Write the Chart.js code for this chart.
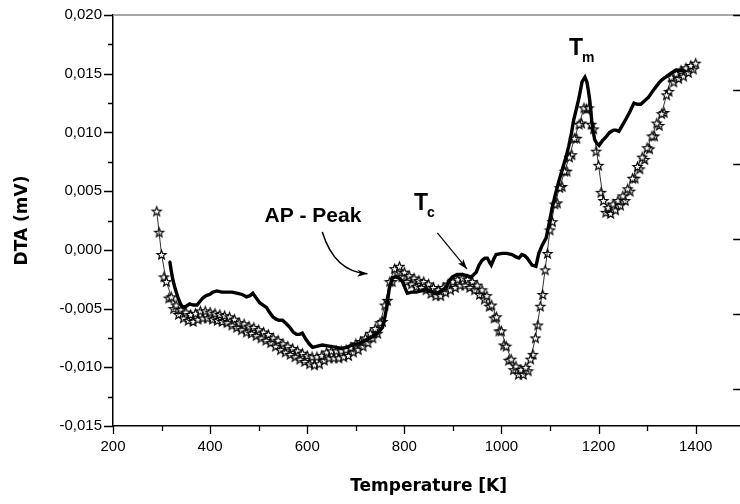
<!DOCTYPE html>
<html>
<head>
<meta charset="utf-8">
<script src="https://cdn.jsdelivr.net/npm/chart.js@4.4.1/dist/chart.umd.min.js"></script>
<style>
html,body{margin:0;padding:0;overflow:hidden;background:#fff;}
#wrap{position:absolute;left:0;top:0;width:750px;height:504px;}
</style>
</head>
<body>
<div id="wrap"><canvas id="c" width="750" height="504"></canvas></div>
<script>
// ---- Data ----
const solidT = [317,320,323,328,334,339,344,351,358,365,373,379,385,392,399,406,414,424,434,445,457,466,475,482,488,495,502,509,516,522,529,536,542,549,557,564,571,578,584,590,597,604,611,621,631,645,660,670,681,693,704,714,724,734,745,755,760,764,769,775,782,789,796,801,806,815,825,835,845,856,866,876,886,893,899,909,919,929,938,948,954,960,966,971,976,979,984,989,1001,1011,1022,1030,1036,1042,1048,1053,1058,1063,1071,1077,1084,1092,1098,1104,1111,1118,1125,1133,1139,1144,1149,1155,1160,1166,1172,1176,1179,1182,1186,1189,1192,1196,1201,1208,1215,1223,1231,1236,1242,1249,1256,1265,1273,1280,1287,1295,1303,1313,1324,1331,1338,1348,1359,1371,1379];
const solidDTA = [-0.0010,-0.0018,-0.0025,-0.0033,-0.0041,-0.0046,-0.0049,-0.0048,-0.0046,-0.0047,-0.0047,-0.0044,-0.0041,-0.0039,-0.0038,-0.0036,-0.0035,-0.0036,-0.0036,-0.0036,-0.0037,-0.0038,-0.0040,-0.0039,-0.0037,-0.0041,-0.0045,-0.0047,-0.0049,-0.0053,-0.0057,-0.0059,-0.0060,-0.0060,-0.0063,-0.0066,-0.0070,-0.0072,-0.0072,-0.0071,-0.0076,-0.0080,-0.0083,-0.0082,-0.0081,-0.0082,-0.0083,-0.0084,-0.0083,-0.0081,-0.0080,-0.0078,-0.0076,-0.0074,-0.0071,-0.0066,-0.0057,-0.0048,-0.0033,-0.0024,-0.0023,-0.0024,-0.0027,-0.0032,-0.0037,-0.0036,-0.0036,-0.0035,-0.0034,-0.0036,-0.0037,-0.0035,-0.0032,-0.0026,-0.0023,-0.0021,-0.0021,-0.0022,-0.0023,-0.0019,-0.0013,-0.0009,-0.0007,-0.0007,-0.0011,-0.0013,-0.0008,-0.0004,-0.0003,-0.0003,-0.0004,-0.0006,-0.0007,-0.0004,-0.0005,-0.0007,-0.0010,-0.0013,-0.0014,-0.0003,0.0004,0.0010,0.0022,0.0035,0.0047,0.0058,0.0068,0.0079,0.0089,0.0099,0.0111,0.0121,0.0130,0.0143,0.0147,0.0143,0.0136,0.0127,0.0110,0.0101,0.0094,0.0091,0.0089,0.0093,0.0096,0.0100,0.0102,0.0102,0.0101,0.0106,0.0111,0.0118,0.0125,0.0124,0.0124,0.0127,0.0130,0.0136,0.0142,0.0145,0.0147,0.0150,0.0153,0.0153,0.0152];

const starAT = [290,300,310,320,330,340,350,360,370,380,390,400,410,420,430,440,450,460,470,480,490,500,510,520,530,540,550,560,570,580,590,600,610,620,630,640,650,660,670,680,690,700,710,720,730,740,750,760,770,780,790,800,810,820,830,840,850,860,870,880,890,900,910,920,930,940,950,960,970,980,990,1000,1010,1020,1030,1040,1050,1060,1070,1080,1090,1100,1110,1120,1130,1140,1150,1160,1170,1180,1190,1200,1210,1220,1230,1240,1250,1260,1270,1280,1290,1300,1310,1320,1330,1340,1350,1360,1370,1380,1390,1400];
const starADTA = [0.0033,-0.0004,-0.0027,-0.0040,-0.0047,-0.0051,-0.0053,-0.0055,-0.0054,-0.0052,-0.0052,-0.0053,-0.0054,-0.0055,-0.0056,-0.0057,-0.0059,-0.0062,-0.0063,-0.0065,-0.0066,-0.0068,-0.0070,-0.0072,-0.0075,-0.0077,-0.0080,-0.0082,-0.0084,-0.0086,-0.0088,-0.0090,-0.0091,-0.0091,-0.0090,-0.0087,-0.0086,-0.0086,-0.0086,-0.0085,-0.0083,-0.0080,-0.0078,-0.0075,-0.0071,-0.0067,-0.0062,-0.0047,-0.0027,-0.0016,-0.0014,-0.0019,-0.0022,-0.0024,-0.0026,-0.0027,-0.0029,-0.0032,-0.0034,-0.0032,-0.0029,-0.0027,-0.0025,-0.0024,-0.0025,-0.0027,-0.0030,-0.0034,-0.0039,-0.0047,-0.0057,-0.0069,-0.0082,-0.0093,-0.0099,-0.0102,-0.0100,-0.0093,-0.0075,-0.0048,-0.0017,0.0017,0.0039,0.0053,0.0067,0.0079,0.0095,0.0107,0.0121,0.0121,0.0103,0.0072,0.0042,0.0036,0.0039,0.0042,0.0046,0.0052,0.0061,0.0071,0.0079,0.0087,0.0097,0.0108,0.0116,0.0132,0.0147,0.0150,0.0153,0.0155,0.0157,0.0159];

const starBT = [295,305,315,325,335,345,355,365,375,385,395,405,415,425,435,445,455,465,475,485,495,505,515,525,535,545,555,565,575,585,595,605,615,625,635,645,655,665,675,685,695,705,715,725,735,745,755,765,775,785,795,805,815,825,835,845,855,865,875,885,895,905,915,925,935,945,955,965,975,985,995,1005,1015,1025,1035,1045,1055,1065,1075,1085,1095,1105,1115,1125,1135,1145,1155,1165,1175,1185,1195,1205,1215,1225,1235,1245,1255,1265,1275,1285,1295,1305,1315,1325,1335,1345,1355,1365,1375,1385,1395];
const starBDTA = [0.0015,-0.0023,-0.0041,-0.0050,-0.0055,-0.0058,-0.0060,-0.0061,-0.0059,-0.0058,-0.0058,-0.0059,-0.0060,-0.0061,-0.0062,-0.0064,-0.0066,-0.0068,-0.0070,-0.0071,-0.0073,-0.0075,-0.0077,-0.0079,-0.0082,-0.0085,-0.0087,-0.0089,-0.0091,-0.0093,-0.0095,-0.0097,-0.0098,-0.0097,-0.0094,-0.0092,-0.0092,-0.0092,-0.0091,-0.0090,-0.0087,-0.0085,-0.0082,-0.0079,-0.0075,-0.0071,-0.0061,-0.0043,-0.0027,-0.0019,-0.0023,-0.0027,-0.0029,-0.0031,-0.0032,-0.0034,-0.0037,-0.0039,-0.0039,-0.0036,-0.0034,-0.0032,-0.0030,-0.0030,-0.0032,-0.0034,-0.0038,-0.0042,-0.0048,-0.0058,-0.0069,-0.0081,-0.0094,-0.0102,-0.0106,-0.0106,-0.0103,-0.0089,-0.0064,-0.0038,-0.0003,0.0024,0.0040,0.0054,0.0067,0.0081,0.0095,0.0108,0.0120,0.0107,0.0084,0.0049,0.0032,0.0031,0.0034,0.0038,0.0042,0.0050,0.0061,0.0069,0.0077,0.0086,0.0097,0.0106,0.0117,0.0135,0.0143,0.0146,0.0148,0.0151,0.0154];

// axis ticks
const xMajorTicks = [200,400,600,800,1000,1200,1400];
const xMinorTicks = [300,500,700,900,1100,1300,1500];
const yMajorTicks = [-0.015,-0.010,-0.005,0.000,0.005,0.010,0.015,0.020];
const yMinorTicks = [-0.0125,-0.0075,-0.0025,0.0025,0.0075,0.0125,0.0175];
const rightAxisTicks = [0,1,2,3,4,5];

// annotation anchors in data units
const labelTm = {x:1139, y:0.0166, main:'T', sub:'m'};
const labelTc = {x:820, y:0.0034, main:'T', sub:'c'};
const labelAP = {x:512, y:0.0024, text:'AP - Peak'};
const arrowTc = {from:[868,0.00145], to:[929,-0.00162]};
const arrowAP = {from:[631,0.00153], ctrl:[656,-0.00187], to:[724,-0.00204]};

// ---- helpers ----
function pts(xs, ys){ return xs.map((x,i)=>({x:x, y:ys[i]})); }
function makeStar(r){
  const s = Math.ceil(r*2+3);
  const c = document.createElement('canvas');
  c.width = s; c.height = s;
  const g = c.getContext('2d');
  g.translate(s/2, s/2+0.5);
  g.beginPath();
  for(let i=0;i<10;i++){
    const rad = (i%2) ? r*0.42 : r;
    const a = -Math.PI/2 + i*Math.PI/5;
    g.lineTo(rad*Math.cos(a), rad*Math.sin(a));
  }
  g.closePath();
  g.fillStyle='#fff'; g.fill();
  g.lineWidth=1.15; g.strokeStyle='#000'; g.stroke();
  return c;
}
const starImg = makeStar(4.8);
const fmt = v => { const r = Math.round(v*1000)/1000 + 0; return r.toFixed(3).replace('.', ','); };
const isMult = (v, s) => Math.abs(Math.round(v/s)*s - v) < 1e-9;

function arrowHead(ctx, x, y, ang, len, wid){
  ctx.save();
  ctx.translate(x,y); ctx.rotate(ang);
  ctx.beginPath();
  ctx.moveTo(0,0); ctx.lineTo(-len, wid/2); ctx.lineTo(-len*0.75,0); ctx.lineTo(-len,-wid/2); ctx.closePath();
  ctx.fill();
  ctx.restore();
}

const framePlugin = {
  id:'frame',
  afterDraw(chart){
    const {ctx, chartArea:a, scales} = chart;
    const xs = scales.x, ys = scales.y, y2 = scales.y2;
    ctx.save();
    // top border (grey)
    ctx.strokeStyle = '#8a8a8a'; ctx.lineWidth = 1.5;
    ctx.beginPath(); ctx.moveTo(a.left, a.top); ctx.lineTo(a.right, a.top); ctx.stroke();
    // right border
    ctx.strokeStyle = '#000';
    ctx.beginPath(); ctx.moveTo(a.right, a.top); ctx.lineTo(a.right, a.bottom); ctx.stroke();
    ctx.lineWidth = 1.3; ctx.strokeStyle = '#000';
    // x ticks
    ctx.beginPath();
    xMajorTicks.forEach(v=>{ const p = Math.round(xs.getPixelForValue(v))+0.5; ctx.moveTo(p, a.bottom); ctx.lineTo(p, a.bottom+8); });
    xMinorTicks.forEach(v=>{ const p = Math.round(xs.getPixelForValue(v))+0.5; ctx.moveTo(p, a.bottom); ctx.lineTo(p, a.bottom+5); });
    // y ticks
    yMajorTicks.forEach(v=>{ const p = Math.round(ys.getPixelForValue(v))+0.5; ctx.moveTo(a.left, p); ctx.lineTo(a.left-9, p); });
    yMinorTicks.forEach(v=>{ const p = Math.round(ys.getPixelForValue(v))+0.5; ctx.moveTo(a.left, p); ctx.lineTo(a.left-5, p); });
    // right side ticks (inward)
    rightAxisTicks.forEach(v=>{ const p = Math.round(y2.getPixelForValue(v))+0.5; ctx.moveTo(a.right, p); ctx.lineTo(a.right-11, p); });
    ctx.stroke();

    // annotations
    ctx.fillStyle = '#000';
    ctx.textBaseline = 'alphabetic'; ctx.textAlign = 'left';
    [labelTm, labelTc].forEach(L=>{
      const px = xs.getPixelForValue(L.x), py = ys.getPixelForValue(L.y);
      ctx.font = 'bold 23px "Liberation Sans", Arial, sans-serif';
      ctx.fillText(L.main, px, py);
      const w = ctx.measureText(L.main).width;
      ctx.font = 'bold 14px "Liberation Sans", Arial, sans-serif';
      ctx.fillText(L.sub, px + w - 1, py + 7);
    });
    ctx.font = 'bold 21px "Liberation Sans", Arial, sans-serif';
    ctx.fillText(labelAP.text, xs.getPixelForValue(labelAP.x), ys.getPixelForValue(labelAP.y));

    // Tc arrow
    ctx.lineWidth = 1.2;
    let x0 = xs.getPixelForValue(arrowTc.from[0]), y0 = ys.getPixelForValue(arrowTc.from[1]);
    let x1 = xs.getPixelForValue(arrowTc.to[0]),   y1 = ys.getPixelForValue(arrowTc.to[1]);
    ctx.beginPath(); ctx.moveTo(x0,y0); ctx.lineTo(x1,y1); ctx.stroke();
    arrowHead(ctx, x1, y1, Math.atan2(y1-y0, x1-x0), 10, 7);
    // AP curved arrow
    x0 = xs.getPixelForValue(arrowAP.from[0]); y0 = ys.getPixelForValue(arrowAP.from[1]);
    const cx = xs.getPixelForValue(arrowAP.ctrl[0]), cy = ys.getPixelForValue(arrowAP.ctrl[1]);
    x1 = xs.getPixelForValue(arrowAP.to[0]); y1 = ys.getPixelForValue(arrowAP.to[1]);
    ctx.lineWidth = 1.6;
    ctx.beginPath(); ctx.moveTo(x0,y0); ctx.quadraticCurveTo(cx,cy,x1,y1); ctx.stroke();
    arrowHead(ctx, x1, y1, Math.atan2(y1-cy, x1-cx), 10, 7);
    ctx.restore();
  }
};

new Chart(document.getElementById('c'), {
  type: 'scatter',
  data: {
    datasets: [
      { label:'solid', data: pts(solidT, solidDTA), showLine:true, borderColor:'#000', borderWidth:3.4,
        pointStyle:'rect', pointRadius:1.4, pointBackgroundColor:'#000', pointBorderWidth:0, tension:0 },
      { label:'starsA', data: pts(starAT, starADTA), showLine:true, borderColor:'#000', borderWidth:0.8,
        pointStyle: starImg, pointRadius:4.8, tension:0 },
      { label:'starsB', data: pts(starBT, starBDTA), showLine:false,
        pointStyle: starImg, pointRadius:4.8 }
    ]
  },
  options: {
    responsive:false, animation:false, events:[],
    layout:{ padding:{ top:15, right:4, left:0, bottom:0 } },
    plugins:{ legend:{display:false}, tooltip:{enabled:false} },
    scales:{
      x:{ type:'linear', min:200, max:1500, position:'bottom',
          afterFit(s){ s.height = 78; },
          border:{ display:true, color:'#000', width:1.5 },
          grid:{ drawOnChartArea:false, drawTicks:true, tickLength:8, tickColor:'rgba(0,0,0,0)' },
          ticks:{ stepSize:100, autoSkip:false, maxRotation:0, padding:4, color:'#000',
                  font:{ family:'"Liberation Sans", Arial, sans-serif', size:15 },
                  callback:(v)=> isMult(v,200) ? String(v) : '' },
          title:{ display:true, text:'Temperature [K]', color:'#000',
                  font:{ family:'"DejaVu Sans", sans-serif', size:17, weight:'bold' },
                  padding:{ top:0, bottom:7 } } },
      y:{ type:'linear', min:-0.015, max:0.020, position:'left',
          afterFit(s){ s.width = 113; },
          border:{ display:true, color:'#000', width:1.5 },
          grid:{ drawOnChartArea:false, drawTicks:true, tickLength:9, tickColor:'rgba(0,0,0,0)' },
          ticks:{ stepSize:0.0025, autoSkip:false, padding:2, color:'#000',
                  font:{ family:'"Liberation Sans", Arial, sans-serif', size:15 },
                  callback:(v)=> isMult(v,0.005) ? fmt(v) : '' },
          title:{ display:true, text:'DTA (mV)', color:'#000',
                  font:{ family:'"DejaVu Sans", sans-serif', size:17, weight:'bold' },
                  padding:{ top:12, bottom:0 } } },
      y2:{ type:'linear', min:-0.5, max:5, position:'right', display:false }
    }
  },
  plugins:[framePlugin]
});
</script>
</body>
</html>
